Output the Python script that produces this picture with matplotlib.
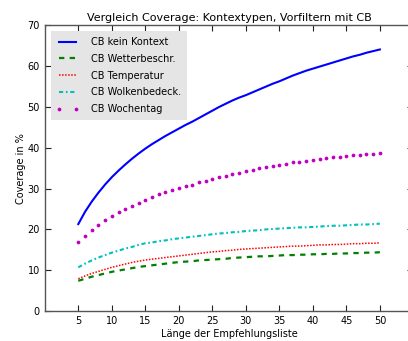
import matplotlib
matplotlib.use('Agg')
import matplotlib.pyplot as plt

# Coverage (%) je Laenge der Empfehlungsliste (5..50)
list_length = list(range(5, 51))

cb_kein_kontext = [21.3, 24.3, 26.8, 29.0, 31.0, 32.8, 34.4, 35.9, 37.3, 38.6,
                   39.8, 40.9, 41.9, 42.9, 43.8, 44.7, 45.6, 46.4, 47.3, 48.2,
                   49.1, 50.0, 50.8, 51.6, 52.3, 52.9, 53.6, 54.3, 55.0, 55.7,
                   56.3, 57.0, 57.7, 58.3, 58.9, 59.4, 59.9, 60.4, 60.9, 61.4,
                   61.9, 62.4, 62.8, 63.3, 63.7, 64.1]
cb_wetter = [7.4, 7.9, 8.4, 8.8, 9.2, 9.6, 9.9, 10.2, 10.5, 10.8,
             11.0, 11.2, 11.4, 11.6, 11.8, 12.0, 12.1, 12.2, 12.4, 12.5,
             12.6, 12.7, 12.8, 13.0, 13.1, 13.2, 13.3, 13.4, 13.4, 13.5,
             13.6, 13.7, 13.7, 13.8, 13.8, 13.9, 13.9, 14.0, 14.0, 14.1,
             14.1, 14.2, 14.2, 14.3, 14.3, 14.4]
cb_temperatur = [7.9, 8.6, 9.2, 9.7, 10.2, 10.7, 11.1, 11.5, 11.9, 12.2,
                 12.5, 12.7, 12.9, 13.1, 13.3, 13.5, 13.7, 13.9, 14.1, 14.3,
                 14.5, 14.6, 14.8, 14.9, 15.1, 15.2, 15.3, 15.4, 15.5, 15.6,
                 15.7, 15.8, 15.9, 15.9, 16.0, 16.1, 16.2, 16.2, 16.3, 16.3,
                 16.4, 16.5, 16.5, 16.6, 16.6, 16.7]
cb_wolken = [10.7, 11.6, 12.4, 13.1, 13.7, 14.3, 14.8, 15.3, 15.7, 16.2,
             16.6, 16.8, 17.1, 17.3, 17.6, 17.8, 18.0, 18.2, 18.4, 18.6,
             18.8, 19.0, 19.1, 19.3, 19.4, 19.6, 19.7, 19.8, 20.0, 20.1,
             20.2, 20.3, 20.4, 20.5, 20.5, 20.6, 20.7, 20.8, 20.9, 20.9,
             21.0, 21.1, 21.2, 21.2, 21.3, 21.4]
cb_wochentag = [16.9, 18.5, 19.9, 21.0, 22.2, 23.3, 24.2, 25.1, 25.8, 26.5,
                27.3, 28.0, 28.6, 29.1, 29.7, 30.1, 30.6, 31.0, 31.5, 31.9,
                32.3, 32.8, 33.2, 33.5, 33.9, 34.3, 34.6, 35.0, 35.3, 35.5,
                35.8, 36.1, 36.4, 36.6, 36.8, 37.1, 37.3, 37.4, 37.7, 37.7,
                37.9, 38.2, 38.3, 38.5, 38.6, 38.8]

xticks = list(range(5, 51, 5))
yticks = list(range(0, 71, 10))

fig = plt.figure(figsize=(4.08, 3.41), dpi=100)
ax = fig.add_axes([0.1098, 0.088, 0.9034, 0.8375])

ax.plot(list_length, cb_kein_kontext, color='#0000ff', lw=1.5, label='CB kein Kontext')
ax.plot(list_length, cb_wetter, color='#008000', lw=1.6, dashes=[2.4, 2.4],
        label='CB Wetterbeschr.')
ax.plot(list_length, cb_temperatur, color='#ff0000', lw=1.1, dashes=[1, 1],
        label='CB Temperatur')
ax.plot(list_length, cb_wolken, color='#00bfbf', lw=1.5, dashes=[2.0, 1.3, 0.8, 1.3],
        label='CB Wolkenbedeck.')
ax.plot(list_length, cb_wochentag, color='#bf00bf', ls='none', marker='o', ms=2.7,
        mew=0, label='CB Wochentag')

ax.set_xlim(0, 55)
ax.set_ylim(0, 70)
ax.set_xticks(xticks)
ax.set_yticks(yticks)
ax.tick_params(direction='in', top=True, right=True, length=4, width=0.8,
               labelsize=7, color='#222222')
for s in ax.spines.values():
    s.set_color('#555555')
    s.set_linewidth(1.0)

ax.set_title('Vergleich Coverage: Kontextypen, Vorfiltern mit CB', fontsize=8, pad=3)
ax.set_xlabel('Länge der Empfehlungsliste', fontsize=7, labelpad=2)
ax.set_ylabel('Coverage in %', fontsize=7, labelpad=1)

leg = ax.legend(loc='upper left', fontsize=7, numpoints=2, handlelength=2.3,
                handletextpad=1.3, labelspacing=0.7, borderpad=0.6,
                borderaxespad=0.6, fancybox=False, framealpha=1)
leg.get_frame().set_facecolor('#e5e5e5')
leg.get_frame().set_edgecolor('none')

fig.savefig('out.png', dpi=100)
